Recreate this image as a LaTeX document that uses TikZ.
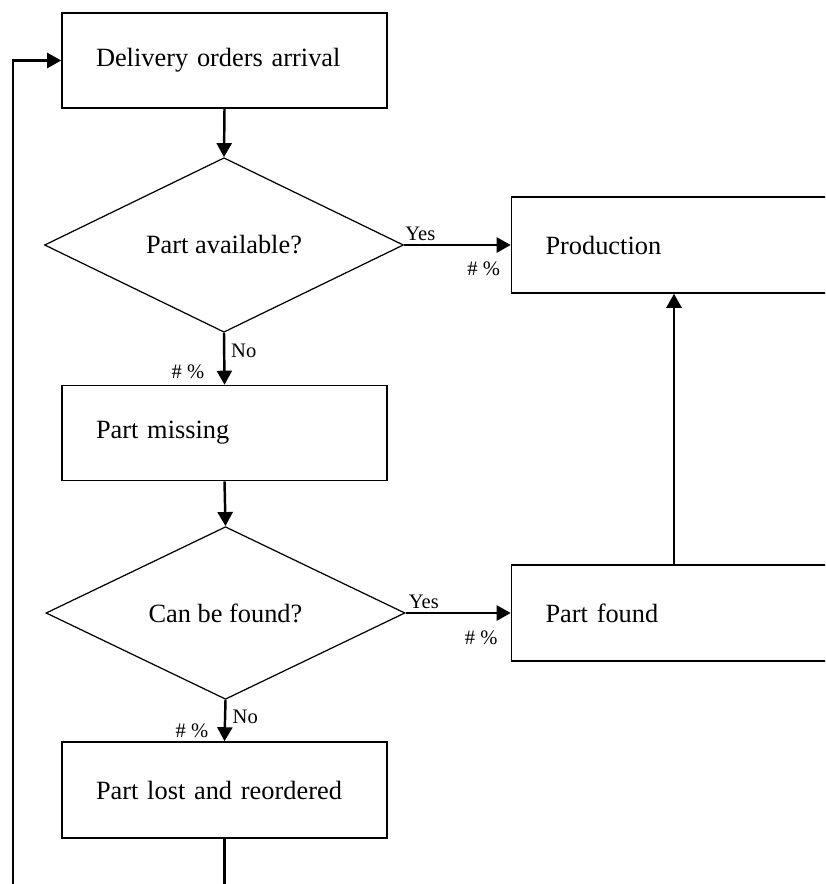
\documentclass[tikz,border=0pt]{standalone}
\usepackage{fontspec}
\setmainfont{Liberation Serif}
\usetikzlibrary{arrows.meta,shapes.geometric}

\begin{document}
\begin{tikzpicture}[
	procbox/.style={draw, line width=0.9pt, minimum width=6.5cm, minimum height=1.9cm,
		text width=5.14cm, inner xsep=0.68cm, align=left, font=\fontsize{15}{18}\selectfont},
	decision/.style={draw, diamond, line width=0.7pt, minimum width=7.18cm, minimum height=3.2cm,
		inner sep=0pt, font=\fontsize{15}{18}\selectfont},
	flow/.style={line width=1.4pt, -{Triangle[length=2.8mm,width=3mm]}},
	lbl/.style={inner sep=0pt, font=\fontsize{11.7}{14}\selectfont}]
	\useasboundingbox (0,0) rectangle (16.5,-17.68);
	\clip (0,0) rectangle (16.5,-17.68);
	% left column
	\node[procbox] (arrival) at (4.49,-1.21) {Delivery orders arrival};
	\node[decision] (avail) at (4.48,-4.9) {Part available?};
	\node[procbox] (missing) at (4.49,-8.66) {Part missing};
	\node[decision] (canfind) at (4.51,-12.26) {Can be found?};
	\node[procbox, minimum height=1.92cm] (lost) at (4.49,-15.8) {Part lost and reordered};
	% right column
	\node[procbox, minimum height=1.92cm] (prod) at (13.48,-4.9) {Production};
	\node[procbox, minimum height=1.92cm] (found) at (13.48,-12.26) {Part found};
	\coordinate (back) at (0.26,-18.2);
	% flows
	\draw[flow] (arrival.south) -- (avail.north);
	\draw[flow] (avail.east) -- node[lbl, pos=0, anchor=south west, yshift=0.06cm] {Yes}
		node[lbl, pos=1, anchor=north east, xshift=-0.19cm, yshift=-0.32cm] {\#~\%} (prod.west);
	\draw[flow] (avail.south) -- node[lbl, pos=0, anchor=north west, xshift=0.12cm, yshift=-0.2cm] {No}
		node[lbl, pos=1, anchor=south east, xshift=-0.38cm, yshift=0.1cm] {\#~\%} (missing.north);
	\draw[flow] (missing.south) -- (canfind.north);
	\draw[flow] (canfind.east) -- node[lbl, pos=0, anchor=south west, xshift=0.04cm, yshift=0.06cm] {Yes}
		node[lbl, pos=1, anchor=north east, xshift=-0.24cm, yshift=-0.34cm] {\#~\%} (found.west);
	\draw[flow] (canfind.south) -- node[lbl, pos=0, anchor=north west, xshift=0.12cm, yshift=-0.18cm] {No}
		node[lbl, pos=1, anchor=south east, xshift=-0.3cm, yshift=0.04cm] {\#~\%} (lost.north);
	\draw[flow] (found.north) -- (prod.south);
	\draw[flow] (lost.south) |- (back) |- (arrival.west);
\end{tikzpicture}
\end{document}
